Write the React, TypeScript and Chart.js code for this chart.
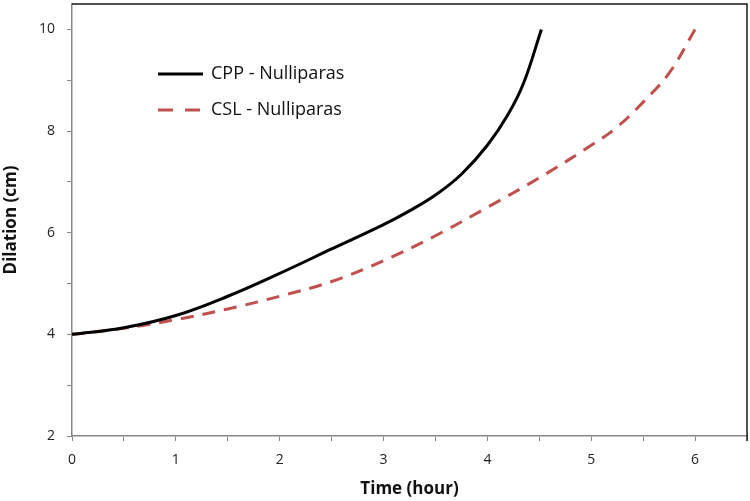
import React, { useEffect, useRef } from "react";
import { Chart, registerables } from "chart.js";

Chart.register(...registerables);

const cppHours = [0, 0.5, 1, 1.5, 2, 2.5, 3, 3.25, 3.5, 3.75, 4, 4.2, 4.35, 4.52];
const cppDilation = [4.0, 4.13, 4.37, 4.75, 5.2, 5.68, 6.16, 6.43, 6.74, 7.15, 7.72, 8.33, 8.95, 10.0];

const cslHours = [0, 0.5, 1, 1.5, 2, 2.5, 3, 3.5, 4, 4.5, 5, 5.25, 5.5, 5.75, 6.0];
const cslDilation = [4.0, 4.12, 4.29, 4.5, 4.75, 5.04, 5.45, 5.94, 6.5, 7.08, 7.72, 8.08, 8.57, 9.14, 10.0];

const seriesLabels = ["CPP - Nulliparas", "CSL - Nulliparas"];
const seriesColors = ["#000000", "#c0504d"];
const xTitle = "Time (hour)";
const yTitle = "Dilation (cm)";

const FONT = "'Open Sans', 'Liberation Sans', sans-serif";

export default function App() {
  const ref = useRef<HTMLCanvasElement | null>(null);

  useEffect(() => {
    document.body.style.margin = "0";
    const canvas = ref.current;
    if (!canvas) return;

    const frameAndLegend = {
      id: "frameAndLegend",
      afterDatasetsDraw(chart: any) {
        const { ctx, chartArea } = chart;
        ctx.save();
        ctx.strokeStyle = "#1a1a1a";
        ctx.lineWidth = 1.5;
        ctx.beginPath();
        ctx.moveTo(chartArea.left, chartArea.top);
        ctx.lineTo(chartArea.right, chartArea.top);
        ctx.lineTo(chartArea.right, chartArea.bottom + 5);
        ctx.stroke();

        const lx = chartArea.left + 86;
        const ly = chartArea.top + 70;
        const gap = 36;
        const dashes: number[][] = [[], [15, 12]];
        chart.data.datasets.forEach((ds: any, i: number) => {
          const y = ly + i * gap;
          ctx.beginPath();
          ctx.setLineDash(dashes[i]);
          ctx.lineCap = "butt";
          ctx.strokeStyle = ds.borderColor;
          ctx.lineWidth = 3;
          ctx.moveTo(lx, y);
          ctx.lineTo(lx + 45, y);
          ctx.stroke();
          ctx.setLineDash([]);
          ctx.fillStyle = "#111";
          ctx.font = `18px ${FONT}`;
          ctx.textBaseline = "middle";
          ctx.textAlign = "left";
          ctx.fillText(ds.label, lx + 53, y);
        });
        ctx.restore();
      },
    };

    const chart = new Chart(canvas, {
      type: "scatter",
      data: {
        datasets: [
          {
            label: seriesLabels[0],
            data: cppHours.map((x, i) => ({ x, y: cppDilation[i] })),
            showLine: true,
            borderColor: seriesColors[0],
            backgroundColor: seriesColors[0],
            borderWidth: 3,
            pointRadius: 0,
            tension: 0.4,
          },
          {
            label: seriesLabels[1],
            data: cslHours.map((x, i) => ({ x, y: cslDilation[i] })),
            showLine: true,
            borderColor: seriesColors[1],
            backgroundColor: seriesColors[1],
            borderWidth: 3,
            borderDash: [13, 9],
            pointRadius: 0,
            tension: 0.4,
          },
        ],
      },
      options: {
        animation: false,
        responsive: false,
        devicePixelRatio: 1,
        layout: { padding: { top: 4, right: 3, left: 0, bottom: 0 } },
        plugins: {
          legend: { display: false },
          tooltip: { enabled: false },
        },
        scales: {
          x: {
            type: "linear",
            min: 0,
            max: 6.5,
            afterFit: (s: any) => {
              s.height = 65;
              s.paddingLeft = 0;
              s.paddingRight = 0;
            },
            ticks: {
              stepSize: 0.5,
              autoSkip: false,
              padding: 11,
              color: "#222",
              font: { family: FONT, size: 14 },
              maxRotation: 0,
              callback: (v: any) => (Number(v) % 1 === 0 ? String(v) : ""),
            },
            grid: {
              drawOnChartArea: false,
              drawTicks: true,
              tickLength: 5,
              color: "#888",
            },
            border: { color: "#888", width: 1.5 },
            title: {
              display: true,
              text: xTitle,
              color: "#111",
              font: { family: FONT, size: 17, weight: "bold" },
              padding: { top: 0, bottom: 2 },
            },
          },
          y: {
            type: "linear",
            min: 2,
            max: 10.5,
            afterFit: (s: any) => {
              s.width = 72;
              s.paddingTop = 0;
              s.paddingBottom = 0;
            },
            afterBuildTicks: (s: any) => {
              const t = [];
              for (let v = 2; v <= 10; v += 1) t.push({ value: v });
              s.ticks = t;
            },
            ticks: {
              autoSkip: false,
              padding: 12,
              color: "#222",
              font: { family: FONT, size: 14 },
              callback: (v: any) => (Number(v) % 2 === 0 ? String(v) : ""),
            },
            grid: {
              drawOnChartArea: false,
              drawTicks: true,
              tickLength: 5,
              color: "#888",
            },
            border: { color: "#888", width: 1.5 },
            title: {
              display: true,
              text: yTitle,
              color: "#111",
              font: { family: FONT, size: 17, weight: "bold" },
              padding: { top: 1, bottom: 0 },
            },
          },
        },
      },
      plugins: [frameAndLegend],
    } as any);

    return () => chart.destroy();
  }, []);

  return (
    <div style={{ position: "absolute", left: 0, top: 0, width: 750, height: 501, background: "#fff" }}>
      <canvas ref={ref} width={750} height={501} />
    </div>
  );
}
